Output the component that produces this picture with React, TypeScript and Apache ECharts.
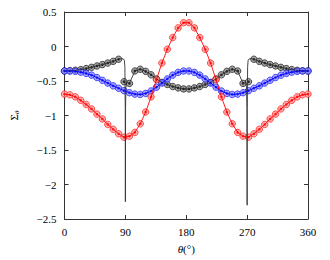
import React, { useEffect, useRef } from "react";
import * as echarts from "echarts";

const theta = [0, 8, 16, 24, 32, 40, 48, 56, 64, 72, 80, 88, 96, 104, 112, 120, 128, 136, 144, 152, 160, 168, 176, 184, 192, 200, 208, 216, 224, 232, 240, 248, 256, 264, 272, 280, 288, 296, 304, 312, 320, 328, 336, 344, 352, 360];

const redVals = [-0.69, -0.70, -0.73, -0.78, -0.84, -0.905, -0.98, -1.05, -1.13, -1.20, -1.265, -1.315, -1.30, -1.245, -1.12, -0.95, -0.73, -0.48, -0.24, -0.04, 0.13, 0.27, 0.345,
  0.345, 0.27, 0.13, -0.04, -0.24, -0.48, -0.73, -0.95, -1.12, -1.245, -1.30, -1.315, -1.265, -1.20, -1.13, -1.05, -0.98, -0.905, -0.84, -0.78, -0.73, -0.70, -0.69];

const blueVals = [-0.355, -0.355, -0.36, -0.372, -0.39, -0.415, -0.45, -0.49, -0.53, -0.57, -0.605, -0.64, -0.67, -0.69, -0.695, -0.68, -0.645, -0.59, -0.53, -0.47, -0.415, -0.375, -0.355,
  -0.355, -0.375, -0.415, -0.47, -0.53, -0.59, -0.645, -0.68, -0.695, -0.69, -0.67, -0.64, -0.605, -0.57, -0.53, -0.49, -0.45, -0.415, -0.39, -0.372, -0.36, -0.355, -0.355];

const blackVals = [-0.355, -0.352, -0.345, -0.335, -0.32, -0.302, -0.282, -0.262, -0.24, -0.215, -0.185, -0.51, -0.535, -0.355, -0.33, -0.36, -0.41, -0.47, -0.52, -0.55, -0.58, -0.6, -0.615,
  -0.615, -0.6, -0.58, -0.55, -0.52, -0.47, -0.41, -0.36, -0.33, -0.355, -0.535, -0.51, -0.185, -0.215, -0.24, -0.262, -0.282, -0.302, -0.32, -0.335, -0.345, -0.352, -0.355];

const blackLineTheta = [0, 8, 16, 24, 32, 40, 48, 56, 64, 72, 80, 84, 87, 88.5, 89.3, 89.8, 90, 90.3, 90.8, 92, 96, 104, 112, 120, 128, 136, 144, 152, 160, 168, 176, 184, 192, 200, 208, 216, 224, 232, 240, 248, 256, 264, 268, 269.2, 269.7, 270, 270.2, 270.7, 271.5, 273, 276, 280, 288, 296, 304, 312, 320, 328, 336, 344, 352, 360];
const blackLineVals = [-0.355, -0.352, -0.345, -0.335, -0.32, -0.302, -0.282, -0.262, -0.24, -0.215, -0.185, -0.175, -0.18, -0.2, -0.3, -0.9, -2.25, -0.9, -0.6, -0.52,
  -0.535, -0.355, -0.33, -0.36, -0.41, -0.47, -0.52, -0.55, -0.58, -0.6, -0.615, -0.615, -0.6, -0.58, -0.55, -0.52, -0.47, -0.41, -0.36, -0.33, -0.355, -0.535,
  -0.52, -0.6, -0.9, -2.3, -0.9, -0.3, -0.2, -0.18, -0.175,
  -0.185, -0.215, -0.24, -0.262, -0.282, -0.302, -0.32, -0.335, -0.345, -0.352, -0.355];

const xTicks = [0, 90, 180, 270, 360];
const yMin = -2.5;
const yMax = 0.5;

const FONT = "Liberation Serif";
const AX = "#333";

export default function App() {
  const ref = useRef<HTMLDivElement>(null);
  useEffect(() => {
    if (!ref.current) return;
    const chart = echarts.init(ref.current, null, { renderer: "svg" });
    const pairs = (xs: number[], ys: number[]) => xs.map((x, i) => [x, ys[i]]);
    const markerSeries = (xs: number[], ys: number[], color: string, fill: string) => [
      {
        type: "scatter",
        data: pairs(xs, ys),
        symbol: "circle",
        symbolSize: 6.5,
        itemStyle: { color: fill, borderColor: color, borderWidth: 0.8 },
        silent: true,
      },
      {
        type: "scatter",
        data: pairs(xs, ys),
        symbol: "circle",
        symbolSize: 2.6,
        itemStyle: { color },
        silent: true,
      },
    ];
    const lineSeries = (xs: number[], ys: number[], color: string) => ({
      type: "line",
      data: pairs(xs, ys),
      showSymbol: false,
      lineStyle: { color, width: 0.9 },
      silent: true,
    });
    const commonX = {
      type: "value",
      min: 0,
      max: 360,
      interval: 90,
      splitLine: { show: false },
      axisLine: { show: true, onZero: false, lineStyle: { color: AX, width: 1 } },
      axisTick: { show: true, inside: true, length: 4, lineStyle: { color: AX } },
    };
    const commonY = {
      type: "value",
      min: yMin,
      max: yMax,
      interval: 0.5,
      splitLine: { show: false },
      axisLine: { show: true, onZero: false, lineStyle: { color: AX, width: 1 } },
      axisTick: { show: true, inside: true, length: 4, lineStyle: { color: AX } },
    };
    chart.setOption({
      animation: false,
      grid: { left: 61, right: 22, top: 12, bottom: 41, containLabel: false },
      xAxis: [
        {
          ...commonX,
          position: "bottom",
          axisLabel: {
            show: true,
            margin: 7,
            fontFamily: FONT,
            fontSize: 11,
            color: "#000",
            formatter: (v: number) => (xTicks.includes(v) ? String(v) : ""),
          },
          name: "{i|θ}(°)",
          nameLocation: "middle",
          nameGap: 24,
          nameTextStyle: {
            fontFamily: FONT,
            fontSize: 11,
            color: "#000",
            rich: { i: { fontFamily: FONT, fontSize: 11, fontStyle: "italic", color: "#000" } },
          },
        },
        { ...commonX, position: "top", axisLabel: { show: false } },
      ],
      yAxis: [
        {
          ...commonY,
          position: "left",
          axisLabel: {
            show: true,
            margin: 8,
            fontFamily: FONT,
            fontSize: 11,
            color: "#000",
            formatter: (v: number) => String(v).replace("-", "\u2212"),
          },
          name: "{s|Σ}{t|θ}",
          nameLocation: "middle",
          nameRotate: 90,
          nameGap: 44,
          nameTextStyle: {
            fontFamily: FONT,
            color: "#000",
            rich: {
              s: { fontFamily: FONT, fontSize: 11, color: "#000", lineHeight: 14 },
              t: { fontFamily: FONT, fontSize: 7, fontStyle: "italic", color: "#000", lineHeight: 14, verticalAlign: "bottom", padding: [5, 0, 0, 0] },
            },
          },
        },
        { ...commonY, position: "right", axisLabel: { show: false } },
      ],
      series: [
        lineSeries(blackLineTheta, blackLineVals, "#333"),
        ...markerSeries(theta, blackVals, "#000", "#8c8c8c"),
        lineSeries(theta, blueVals, "#0000ff"),
        ...markerSeries(theta, blueVals, "#0000ff", "#8f8fff"),
        lineSeries(theta, redVals, "#ff0000"),
        ...markerSeries(theta, redVals, "#ff0000", "#ff9a9a"),
      ],
    });
    return () => chart.dispose();
  }, []);
  return (
    <div
      ref={ref}
      style={{ position: "fixed", left: 0, top: 0, width: 330, height: 260, background: "#fff" }}
    />
  );
}
